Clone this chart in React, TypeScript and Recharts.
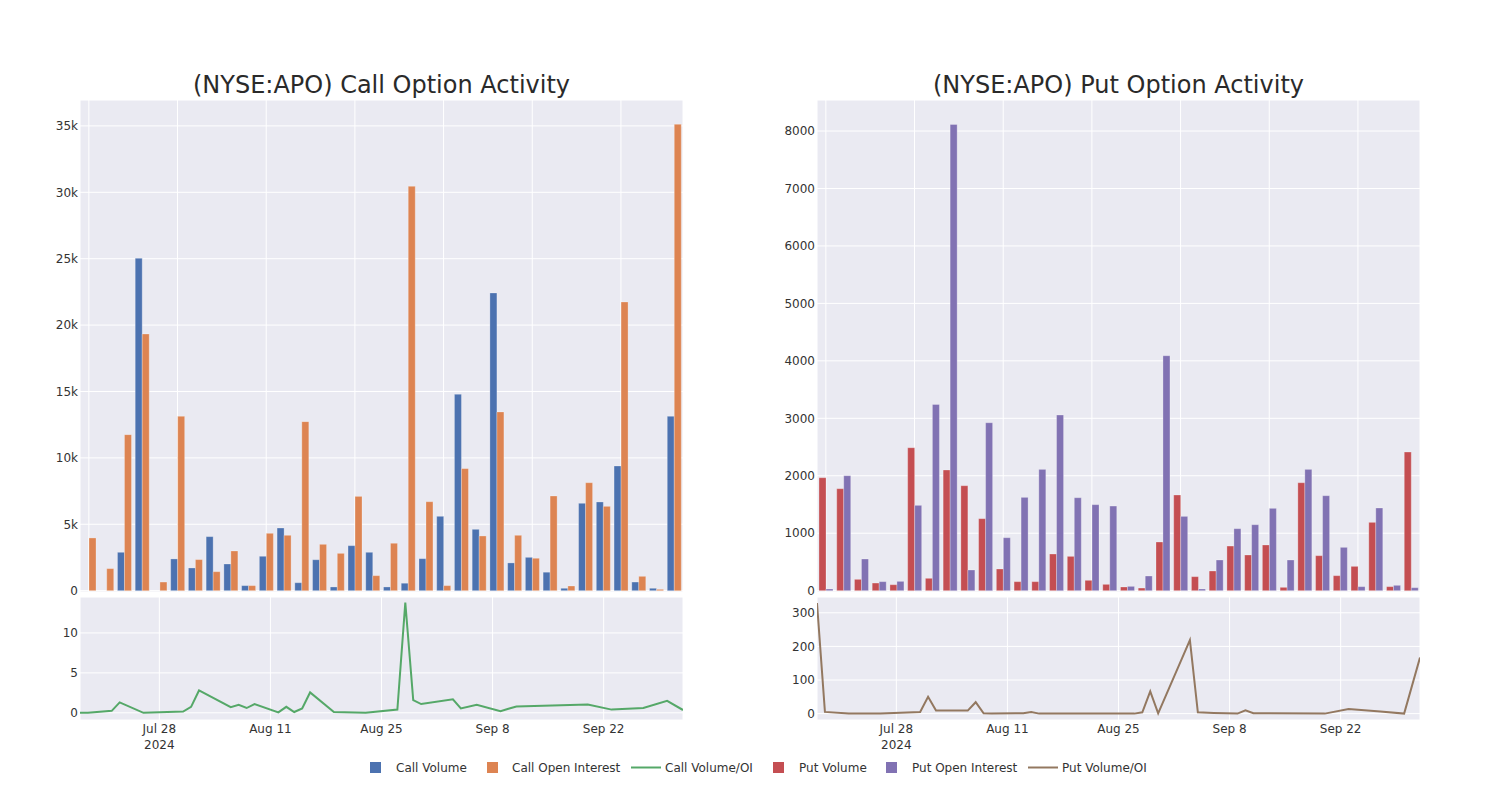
import React from "react";
import {
  BarChart,
  Bar,
  LineChart,
  Line,
  XAxis,
  YAxis,
  CartesianGrid,
} from "recharts";

// ---------- data ----------
const dates = [
  "2024-07-18", "2024-07-19", "2024-07-22", "2024-07-23", "2024-07-26", "2024-07-31",
  "2024-08-01", "2024-08-02", "2024-08-06", "2024-08-07", "2024-08-08", "2024-08-09",
  "2024-08-12", "2024-08-13", "2024-08-14", "2024-08-15", "2024-08-16", "2024-08-19",
  "2024-08-23", "2024-08-27", "2024-08-28", "2024-08-29", "2024-08-30", "2024-09-03",
  "2024-09-04", "2024-09-06", "2024-09-09", "2024-09-10", "2024-09-11", "2024-09-20",
  "2024-09-23", "2024-09-27", "2024-09-30", "2024-10-02",
];

const callVolume = [
  0, 0, 2890, 25030, 0, 2390, 1710, 4070, 2010, 380, 2590, 4720, 600, 2330, 280, 3390,
  2890, 280, 560, 2410, 5600, 14790, 4620, 22420, 2090, 2510, 1390, 180, 6580, 6680,
  9390, 650, 180, 13130,
];
const callOpenInterest = [
  3970, 1660, 11750, 19330, 650, 13130, 2340, 1430, 2990, 380, 4320, 4170, 12730, 3490,
  2810, 7100, 1130, 3570, 30450, 6700, 380, 9190, 4120, 13460, 4170, 2440, 7130, 350,
  8130, 6350, 21740, 1080, 100, 35120,
];
const callVolumeOI = [
  0, 0, 0.25, 1.3, 0, 0.15, 0.75, 2.8, 0.7, 1.0, 0.6, 1.1, 0.05, 0.75, 0.1, 0.55, 2.55,
  0.1, 0.0, 0.4, 13.8, 1.6, 1.1, 1.7, 0.55, 1.0, 0.2, 0.5, 0.8, 1.05, 0.4, 0.6, 1.5, 0.35,
];

const putVolume = [
  1966, 1775, 197, 133, 104, 2488, 215, 2100, 1827, 1253, 377, 157, 157, 638, 597, 180,
  110, 64, 46, 847, 1665, 244, 342, 777, 621, 795, 58, 1879, 609, 261, 423, 1189, 70, 2413,
];
const putOpenInterest = [
  29, 2001, 551, 157, 162, 1485, 3242, 8115, 360, 2923, 922, 1624, 2111, 3057, 1618, 1497,
  1473, 75, 255, 4089, 1293, 29, 534, 1079, 1148, 1433, 534, 2111, 1653, 754, 70, 1439, 93, 52,
];
const putVolumeOI = [
  329, 5, 0, 0, 0, 5, 50, 9, 9, 34, 1, 0, 1, 1, 5, 0, 0, 0, 0, 0, 4, 66, 1, 219, 4, 2, 0,
  10, 1, 0, 14, 6, 0, 167,
];

const callYTicks = [0, 5000, 10000, 15000, 20000, 25000, 30000, 35000];
const putYTicks = [0, 1000, 2000, 3000, 4000, 5000, 6000, 7000, 8000];
const callRatioTicks = [0, 5, 10];
const putRatioTicks = [0, 100, 200, 300];
const dateTicks = ["2024-07-28", "2024-08-11", "2024-08-25", "2024-09-08", "2024-09-22"];
const dateRange = ["2024-07-18", "2024-10-02"];
const monthNames = ["Jan", "Feb", "Mar", "Apr", "May", "Jun", "Jul", "Aug", "Sep", "Oct", "Nov", "Dec"];

// ---------- helpers ----------
const toTs = (d: string) => Date.parse(d + "T00:00:00Z");

const callBars = dates.map((d, i) => ({ date: d, vol: callVolume[i], oi: callOpenInterest[i] }));
const putBars = dates.map((d, i) => ({ date: d, vol: putVolume[i], oi: putOpenInterest[i] }));
const callLine = dates.map((d, i) => ({ t: toTs(d), v: callVolumeOI[i] }));
const putLine = dates.map((d, i) => ({ t: toTs(d), v: putVolumeOI[i] }));

const C = {
  bg: "#EAEAF2",
  blue: "#4C72B0",
  orange: "#DD8452",
  green: "#55A868",
  red: "#C44E52",
  purple: "#8172B3",
  brown: "#937860",
  text: "#333333",
};

const FONT = "'DejaVu Sans', 'Liberation Sans', sans-serif";

const kFmt = (v: number) => (v === 0 ? "0" : `${v / 1000}k`);

const EmptyTick = () => <g />;

const DateTick = (props: any) => {
  const { x, y, payload } = props;
  const d = new Date(payload.value);
  const label = `${monthNames[d.getUTCMonth()]} ${d.getUTCDate()}`;
  const first = toTs(dateTicks[0]) === payload.value;
  return (
    <g>
      <text x={x} y={y + 13} textAnchor="middle" fontSize={12} fill={C.text}>
        {label}
      </text>
      {first && (
        <text x={x} y={y + 29} textAnchor="middle" fontSize={12} fill={C.text}>
          2024
        </text>
      )}
    </g>
  );
};

const tickStyle = { fontSize: 12, fill: C.text };

function BarPanel({ data, left, c1, c2, yTicks, yMax, fmt }: any) {
  return (
    <div style={{ position: "absolute", left, top: 0 }}>
      <BarChart
        width={700}
        height={600}
        data={data}
        margin={{ top: 100, right: 17, bottom: 8, left: 20 }}
        barGap={0}
        barSize={7}
      >
        <CartesianGrid fill={C.bg} fillOpacity={1} stroke="#ffffff" strokeWidth={1} />
        <XAxis
          dataKey="date"
          type="category"
          interval={4}
          height={0}
          tick={<EmptyTick />}
          axisLine={false}
          tickLine={false}
          tickSize={0}
        />
        <YAxis
          width={60}
          type="number"
          domain={[-yMax * 0.0027, yMax]}
          ticks={yTicks}
          allowDataOverflow
          tickFormatter={fmt}
          tick={tickStyle}
          axisLine={false}
          tickLine={false}
          tickSize={0}
          tickMargin={2}
        />
        <Bar dataKey="vol" fill={c1} stroke="#ffffff" strokeOpacity={0.45} strokeWidth={0.6} isAnimationActive={false} />
        <Bar dataKey="oi" fill={c2} stroke="#ffffff" strokeOpacity={0.45} strokeWidth={0.6} isAnimationActive={false} />
      </BarChart>
    </div>
  );
}

function LinePanel({ data, left, color, yTicks, yDomain }: any) {
  return (
    <div style={{ position: "absolute", left, top: 590 }}>
      <LineChart width={700} height={170} data={data} margin={{ top: 7, right: 17, bottom: 0, left: 20 }}>
        <CartesianGrid fill={C.bg} fillOpacity={1} stroke="#ffffff" strokeWidth={1} />
        <XAxis
          dataKey="t"
          type="number"
          domain={[toTs(dateRange[0]), toTs(dateRange[1])]}
          ticks={dateTicks.map(toTs)}
          interval={0}
          allowDataOverflow
          height={40}
          tick={<DateTick />}
          axisLine={false}
          tickLine={false}
          tickSize={0}
          tickMargin={0}
        />
        <YAxis
          width={60}
          type="number"
          domain={yDomain}
          ticks={yTicks}
          allowDataOverflow
          tick={tickStyle}
          axisLine={false}
          tickLine={false}
          tickSize={0}
          tickMargin={2}
        />
        <Line
          type="linear"
          dataKey="v"
          stroke={color}
          strokeWidth={2}
          dot={false}
          isAnimationActive={false}
        />
      </LineChart>
    </div>
  );
}

const legendItems = [
  { label: "Call Volume", color: C.blue, kind: "box", x: 370, tx: 396 },
  { label: "Call Open Interest", color: C.orange, kind: "box", x: 487, tx: 512 },
  { label: "Call Volume/OI", color: C.green, kind: "line", x: 631, tx: 665 },
  { label: "Put Volume", color: C.red, kind: "box", x: 773, tx: 799 },
  { label: "Put Open Interest", color: C.purple, kind: "box", x: 886, tx: 912 },
  { label: "Put Volume/OI", color: C.brown, kind: "line", x: 1028, tx: 1062 },
];

export default function App() {
  return (
    <div
      style={{
        position: "absolute",
        left: 0,
        top: 0,
        width: 1500,
        height: 800,
        background: "#ffffff",
        fontFamily: FONT,
      }}
    >
      <svg width={1500} height={800} style={{ position: "absolute", left: 0, top: 0 }}>
        <text x={381.5} y={93} textAnchor="middle" fontSize={24} fill="#2a2a2a">
          (NYSE:APO) Call Option Activity
        </text>
        <text x={1118.5} y={93} textAnchor="middle" fontSize={24} fill="#2a2a2a">
          (NYSE:APO) Put Option Activity
        </text>
        {legendItems.map((it) => (
          <g key={it.label}>
            {it.kind === "box" ? (
              <rect x={it.x} y={762} width={11} height={11} fill={it.color} />
            ) : (
              <line x1={it.x} x2={it.x + 30} y1={767.5} y2={767.5} stroke={it.color} strokeWidth={2} />
            )}
            <text x={it.tx} y={772} fontSize={12} fill={C.text}>
              {it.label}
            </text>
          </g>
        ))}
      </svg>
      <BarPanel data={callBars} left={0} c1={C.blue} c2={C.orange} yTicks={callYTicks} yMax={36950} fmt={kFmt} />
      <BarPanel data={putBars} left={737} c1={C.red} c2={C.purple} yTicks={putYTicks} yMax={8540} fmt={(v: number) => `${v}`} />
      <LinePanel data={callLine} left={0} color={C.green} yTicks={callRatioTicks} yDomain={[-0.9, 14.5]} />
      <LinePanel data={putLine} left={737} color={C.brown} yTicks={putRatioTicks} yDomain={[-19, 347]} />
    </div>
  );
}
